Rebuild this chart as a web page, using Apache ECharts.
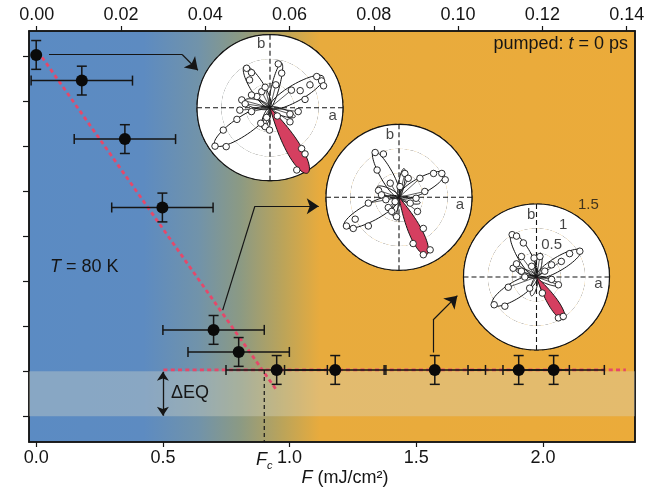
<!DOCTYPE html>
<html><head><meta charset="utf-8">
<script src="https://cdn.jsdelivr.net/npm/echarts@6/dist/echarts.min.js"></script>
<style>html,body{margin:0;padding:0;background:#fff}#c{width:646px;height:491px}</style>
</head><body><div id="c"></div>
<script>
// ---------- main data ----------
const fluence = [0.0, 0.18, 0.35, 0.498, 0.70, 0.799, 0.949, 1.18, 1.573, 1.904, 2.042];
const order   = [8.03, 7.46, 6.16, 4.64, 1.92, 1.43, 1.03, 1.03, 1.03, 1.03, 1.03];
const fluenceErr = [0, 0.2, 0.2, 0.2, 0.2, 0.2, 0.2, 0.2, 0.2, 0.2, 0.2];
const orderErr   = [0.32, 0.32, 0.32, 0.32, 0.32, 0.32, 0.32, 0.32, 0.32, 0.32, 0.32];
const bottomTicks = [0, 0.5, 1.0, 1.5, 2.0];
const topTicks = [0, 0.02, 0.04, 0.06, 0.08, 0.10, 0.12, 0.14];
const leftTicks = [0, 1, 2, 3, 4, 5, 6, 7, 8];
const fitDecline = [[0.023, 7.98], [0.95, 0.57]];
const fitPlateau = [[0.502, 1.03], [2.327, 1.03]];
const Fc = 0.9;
const eqBand = [0, 1];
const arrow1 = [[0.0505, 8.04], [0.576, 8.04], [0.638, 7.69]];
const arrow2 = [[0.736, 2.36], [0.863, 4.67], [1.115, 4.67]];
const arrow3 = [[1.566, 1.42], [1.566, 2.14], [1.662, 2.68]];

// ---------- inset data: lobes [direction deg, length, half-width], points [a, b] ----------
const inset1Lobes = [[30, 1.27, 0.17], [214, 1.37, 0.19], [121.6, 1.0, 0.14], [75.5, 0.95, 0.08], [165, 0.55, 0.09], [250, 0.45, 0.07], [340, 0.55, 0.07]];
const inset1Red = [300, 1.55, 0.155];
const inset1Points = [[-0.48,0.81],[-0.38,0.72],[-0.42,0.57],[0.17,0.90],[0.24,0.71],[0.12,0.47],[0.96,0.64],[1.06,0.55],[1.10,0.45],[0.82,0.47],[0.62,0.35],[0.72,0.17],[-1.13,-0.79],[-0.90,-0.80],[-0.96,-0.46],[-0.68,-0.24],[-0.38,-0.08],[-0.58,0.16],[-0.51,0.08],[-0.62,-0.05],[-0.27,0.23],[-0.17,0.33],[-0.10,0.42],[-0.07,-0.20],[-0.10,-0.39],[-0.19,-0.32],[-0.01,-0.46],[0.15,-0.17],[0.41,-0.13],[0.58,-0.08],[0.41,-0.29],[0.65,-0.84],[0.72,-0.95],[0.55,-1.28],[0.79,-1.35],[0.44,0.36],[-0.38,0.26]];
const inset2Lobes = [[28, 1.05, 0.16], [208, 1.28, 0.18], [119, 1.08, 0.13], [80, 0.6, 0.06], [155, 0.5, 0.08], [250, 0.4, 0.06], [345, 0.45, 0.06]];
const inset2Red = [295.6, 1.31, 0.137];
const inset2Points = [[-0.49,0.92],[-0.32,0.89],[-0.45,0.56],[0.88,0.49],[0.95,0.36],[0.71,0.49],[0.43,0.39],[0.53,0.12],[0.35,-0.02],[0.12,0.49],[0.19,0.39],[0.02,0.22],[-1.08,-0.59],[-0.94,-0.64],[-0.63,-0.59],[-0.90,-0.45],[-0.63,-0.12],[-0.42,0.14],[-0.36,0.05],[-0.27,-0.05],[-0.22,-0.21],[-0.15,-0.29],[-0.05,-0.40],[0.23,-0.12],[0.38,-0.29],[0.50,-0.64],[0.29,-0.95],[0.64,-1.08],[0.50,-1.18],[-0.08,-0.09],[-0.18,0.29]];
const inset3Lobes = [[31, 1.06, 0.14], [212, 1.07, 0.17], [119.6, 1.04, 0.14], [80, 0.5, 0.06], [160, 0.45, 0.07], [255, 0.4, 0.06], [340, 0.5, 0.06]];
const inset3Red = [303, 1.04, 0.105];
const inset3Points = [[-0.50,0.87],[-0.41,0.84],[-0.27,0.70],[0.89,0.53],[0.68,0.48],[0.51,0.32],[0.31,0.25],[-0.87,-0.57],[-0.65,-0.60],[-0.58,-0.21],[-0.48,0.18],[-0.41,0.27],[-0.31,0.12],[-0.24,0.00],[-0.05,0.39],[0.07,0.42],[0.17,0.12],[0.31,-0.05],[0.45,-0.16],[0.12,-0.33],[-0.14,-0.23],[0.45,-0.84],[0.55,-0.81],[-0.10,0.22],[-0.31,0.42]];
// inset text labels: [text, radius, angle]
const inset1Labels = [['b', 1.32, 98], ['a', 1.30, 352.5]];
const inset2Labels = [['b', 1.29, 98.2], ['a', 1.26, 352.8]];
const inset3Labels = [['b', 1.28, 95], ['a', 1.28, 353.8], ['0.5', 0.73, 64.9], ['1', 1.2, 62.9], ['1.5', 1.83, 54.4]];

// ---------- helpers ----------
const FONT = 'Liberation Sans, Arial, Helvetica, sans-serif';
const INK = '#151515';
const RED_FIT = '#e5486a';
const RED_LOBE = '#d53f60';
function toPolar(x, y) {
  return [Math.hypot(x, y), ((Math.atan2(y, x) * 180 / Math.PI) + 360) % 360];
}
function lobeOutline(l, red) {
  const a = l[0] * Math.PI / 180, L = l[1], hw = l[2];
  const pts = [];
  for (let k = 0; k <= 60; k++) {
    const s = 2 * Math.PI * k / 60;
    const u = L * (1 - Math.cos(s)) / 2;
    const v = red ? hw / 0.771 * Math.sin(s) * Math.abs(Math.sin(s / 2)) : hw * Math.sin(s);
    pts.push(toPolar(u * Math.cos(a) - v * Math.sin(a), u * Math.sin(a) + v * Math.cos(a)));
  }
  return pts;
}

const insets = [
  {center: [270, 107.7], lobes: inset1Lobes, red: inset1Red, points: inset1Points, labels: inset1Labels},
  {center: [399, 197.3], lobes: inset2Lobes, red: inset2Red, points: inset2Points, labels: inset2Labels},
  {center: [536.5, 277], lobes: inset3Lobes, red: inset3Red, points: inset3Points, labels: inset3Labels}
];

const polar = [], angleAxis = [], radiusAxis = [], insetSeries = [];
insets.forEach((ins, i) => {
  polar.push({center: ins.center, radius: 73});
  angleAxis.push({
    polarIndex: i, type: 'value', min: 0, max: 360, interval: 90, startAngle: 0, clockwise: false, z: 6,
    axisLine: {show: true, lineStyle: {color: INK, width: 1.2}},
    axisTick: {show: false}, axisLabel: {show: false},
    splitLine: {show: true, lineStyle: {color: INK, width: 1.1, type: [5, 3]}}
  });
  radiusAxis.push({
    polarIndex: i, type: 'value', min: 0, max: 1.5, interval: 0.5, z: 5,
    axisLine: {show: false}, axisTick: {show: false}, axisLabel: {show: false},
    splitLine: {show: true, lineStyle: {color: INK, width: 1.1, type: [5, 3]}},
    splitArea: {show: true, areaStyle: {color: ['#ffffff', '#ffffff'], opacity: 1}}
  });
  const pts = ins.points.map(p => toPolar(p[0], p[1]));
  insetSeries.push({
    type: 'custom', coordinateSystem: 'polar', polarIndex: i, z: 10, silent: true,
    data: pts.filter(p => p[0] < 0.7),
    renderItem: (params, api) => {
      const o = api.coord([0, 0]), p = api.coord([api.value(0), api.value(1)]);
      return {type: 'line', shape: {x1: o[0], y1: o[1], x2: p[0], y2: p[1]}, style: {stroke: INK, lineWidth: 0.7}};
    }
  });
  const allLobes = ins.lobes.concat([ins.red]);
  insetSeries.push({
    type: 'custom', coordinateSystem: 'polar', polarIndex: i, z: 11, silent: true,
    data: allLobes.map((l, k) => [l[1], l[0], k]),
    renderItem: (params, api) => {
      const k = api.value(2);
      const isRed = k === allLobes.length - 1;
      const poly = lobeOutline(allLobes[k], isRed).map(q => api.coord(q));
      return {type: 'polygon', z2: isRed ? 5 : 1, shape: {points: poly},
        style: {fill: isRed ? RED_LOBE : 'none', stroke: INK, lineWidth: 1}};
    }
  });
  insetSeries.push({
    type: 'scatter', coordinateSystem: 'polar', polarIndex: i, z: 12, silent: true,
    symbol: 'circle', symbolSize: 6.5,
    itemStyle: {color: '#ffffff', borderColor: INK, borderWidth: 0.9, opacity: 1},
    data: pts
  });
  insetSeries.push({
    type: 'scatter', coordinateSystem: 'polar', polarIndex: i, z: 13, silent: true, clip: false,
    symbolSize: 0,
    label: {show: true, position: 'inside', formatter: p => p.name, color: INK, fontSize: 15, fontFamily: FONT},
    data: ins.labels.map(l => ({name: l[0], value: [l[1], l[2]]}))
  });
});

const bgGrad = new echarts.graphic.LinearGradient(0, 0, 1, 0, [
  {offset: 0, color: '#5b8bc3'}, {offset: 0.19, color: '#5d8bc1'},
  {offset: 0.28, color: '#7193aa'}, {offset: 0.35, color: '#8c9a83'},
  {offset: 0.42, color: '#bca459'}, {offset: 0.48, color: '#e8ab3d'},
  {offset: 1, color: '#ebab3a'}
]);

const labelStyle = {color: INK, fontSize: 18, fontFamily: FONT};
const arrows = [arrow1, arrow2, arrow3];

const option = {
  animation: false,
  grid: {left: 29, right: 11, top: 31, bottom: 49, outerBoundsMode: 'none', containLabel: false,
         show: true, backgroundColor: bgGrad, borderColor: INK, borderWidth: 1.5},
  xAxis: [
    {type: 'value', position: 'bottom', min: -0.0284, max: 2.363,
     axisLine: {show: true, onZero: false, lineStyle: {color: INK, width: 1.5}},
     axisTick: {show: true, length: 5, customValues: bottomTicks, lineStyle: {color: INK, width: 1.2}},
     axisLabel: Object.assign({}, labelStyle, {margin: 7, customValues: bottomTicks.concat([Fc]),
       formatter: v => Math.abs(v - Fc) < 1e-9 ? '{i|F}{s|c}' : v.toFixed(1),
       rich: {i: {fontStyle: 'italic', fontSize: 18, fontFamily: FONT, color: INK},
              s: {fontStyle: 'italic', fontSize: 11, fontFamily: FONT, color: INK, padding: [11, 0, 0, 0]}}}),
     splitLine: {show: false},
     name: '{i|F}{n| (mJ/cm²)}', nameLocation: 'middle', nameGap: 27, nameMoveOverlap: false,
     nameTextStyle: {padding: [0, 0, 0, 26], rich: {i: {fontStyle: 'italic', fontSize: 18, fontFamily: FONT, color: INK}, n: {fontSize: 18, fontFamily: FONT, color: INK}}}
    },
    {type: 'value', position: 'top', min: -0.001827, max: 0.14198,
     axisLine: {show: true, onZero: false, lineStyle: {color: INK, width: 1.5}},
     axisTick: {show: true, length: 5, customValues: topTicks, lineStyle: {color: INK, width: 1.2}},
     axisLabel: Object.assign({}, labelStyle, {margin: 7, customValues: topTicks, formatter: v => v.toFixed(2)}),
     splitLine: {show: false}}
  ],
  yAxis: [
    {type: 'value', position: 'left', min: -0.571, max: 8.562,
     axisLine: {show: true, onZero: false, lineStyle: {color: INK, width: 1.5}},
     axisTick: {show: true, length: 6, customValues: leftTicks, lineStyle: {color: INK, width: 1.2}},
     axisLabel: {show: false}, splitLine: {show: false}},
    {type: 'value', position: 'right', min: -0.571, max: 8.562,
     axisLine: {show: true, onZero: false, lineStyle: {color: INK, width: 1.5}},
     axisTick: {show: false}, axisLabel: {show: false}, splitLine: {show: false}}
  ],
  polar, angleAxis, radiusAxis,
  graphic: [
    {type: 'text', x: 628, y: 44, z: 20, style: {text: '{n|pumped: }{i|t}{n| = 0 ps}', align: 'right', verticalAlign: 'middle',
      rich: {n: {fontSize: 18, fontFamily: FONT, fill: INK}, i: {fontSize: 18, fontFamily: FONT, fontStyle: 'italic', fill: INK}}}},
    {type: 'text', x: 50, y: 267, z: 20, style: {text: '{i|T}{n| = 80 K}', align: 'left', verticalAlign: 'middle',
      rich: {n: {fontSize: 18, fontFamily: FONT, fill: INK}, i: {fontSize: 18, fontFamily: FONT, fontStyle: 'italic', fill: INK}}}},
    {type: 'text', x: 171, y: 393, z: 20, style: {text: 'ΔEQ', align: 'left', verticalAlign: 'middle', fontSize: 18, fontFamily: FONT, fill: INK}}
  ],
  series: [
    {type: 'line', xAxisIndex: 0, yAxisIndex: 0, data: [], z: 1, silent: true,
     markArea: {silent: true, itemStyle: {color: 'rgba(215,215,200,0.36)'}, data: [[{yAxis: eqBand[0]}, {yAxis: eqBand[1]}]]}},
    {type: 'line', xAxisIndex: 0, yAxisIndex: 0, data: fitDecline, symbol: 'none', z: 2, silent: true,
     lineStyle: {color: RED_FIT, width: 2.8, type: [4, 3.3]}},
    {type: 'line', xAxisIndex: 0, yAxisIndex: 0, data: fitPlateau, symbol: 'none', z: 2, silent: true,
     lineStyle: {color: RED_FIT, width: 2.8, type: [4, 3.3]}},
    {type: 'line', xAxisIndex: 0, yAxisIndex: 0, data: [[Fc, fitPlateau[0][1]], [Fc, -0.571]], symbol: 'none', z: 2, silent: true,
     lineStyle: {color: INK, width: 1.2, type: [4, 3]}},
    {type: 'lines', coordinateSystem: 'cartesian2d', xAxisIndex: 0, yAxisIndex: 0, z: 3, silent: true,
     symbol: ['arrow', 'arrow'], symbolSize: 9,
     lineStyle: {color: INK, width: 1.3, opacity: 1},
     data: [{coords: [[0.5, eqBand[1] - 0.01], [0.5, eqBand[0] + 0.01]]}]},
    {type: 'lines', coordinateSystem: 'cartesian2d', xAxisIndex: 0, yAxisIndex: 0, z: 3, silent: true,
     symbol: ['none', 'none'],
     lineStyle: {color: INK, width: 1.2, opacity: 1},
     data: arrows.map(a => ({coords: [a[0], a[1]]}))},
    {type: 'lines', coordinateSystem: 'cartesian2d', xAxisIndex: 0, yAxisIndex: 0, z: 3, silent: true,
     symbol: ['none', 'arrow'], symbolSize: 12,
     lineStyle: {color: INK, width: 1.2, opacity: 1},
     data: arrows.map(a => ({coords: [a[1], a[2]]}))},
    {type: 'custom', xAxisIndex: 0, yAxisIndex: 0, z: 4, silent: true,
     encode: {x: 0, y: 1},
     data: fluence.map((f, i) => [f, order[i], fluenceErr[i], orderErr[i]]),
     renderItem: (params, api) => {
       const x = api.value(0), y = api.value(1), ex = api.value(2), ey = api.value(3);
       const t = api.coord([x, y + ey]), b = api.coord([x, y - ey]);
       const st = {stroke: INK, lineWidth: 1.5};
       const ch = [
         {type: 'line', shape: {x1: t[0], y1: t[1], x2: b[0], y2: b[1]}, style: st},
         {type: 'line', shape: {x1: t[0] - 5, y1: t[1], x2: t[0] + 5, y2: t[1]}, style: st},
         {type: 'line', shape: {x1: b[0] - 5, y1: b[1], x2: b[0] + 5, y2: b[1]}, style: st}
       ];
       if (ex > 0) {
         const l = api.coord([x - ex, y]), r = api.coord([x + ex, y]);
         ch.push({type: 'line', shape: {x1: l[0], y1: l[1], x2: r[0], y2: r[1]}, style: st});
         ch.push({type: 'line', shape: {x1: l[0], y1: l[1] - 5, x2: l[0], y2: l[1] + 5}, style: st});
         ch.push({type: 'line', shape: {x1: r[0], y1: r[1] - 5, x2: r[0], y2: r[1] + 5}, style: st});
       }
       return {type: 'group', children: ch};
     }},
    {type: 'scatter', xAxisIndex: 0, yAxisIndex: 0, z: 5, silent: true, symbol: 'circle', symbolSize: 12,
     itemStyle: {color: '#0a0a0a', opacity: 1},
     data: fluence.map((f, i) => [f, order[i]])}
  ].concat(insetSeries)
};

const chart = echarts.init(document.getElementById('c'), null, {renderer: 'canvas'});
chart.setOption(option);
</script></body></html>
